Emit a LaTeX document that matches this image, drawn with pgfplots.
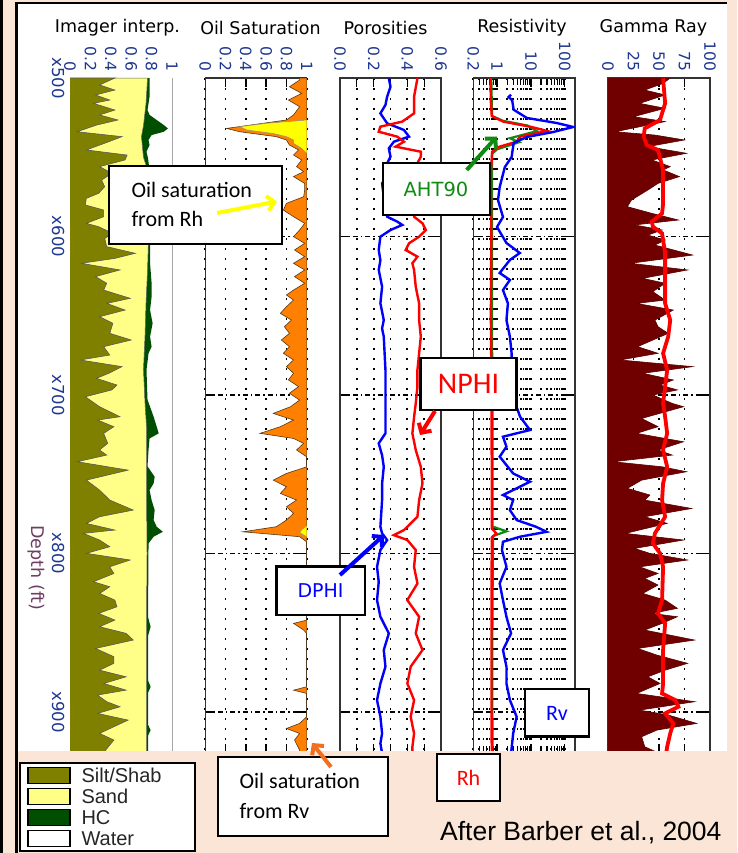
\documentclass[border=0pt]{standalone}
\usepackage{pgfplots}
\pgfplotsset{compat=1.18}
\usetikzlibrary{arrows.meta}
\usepackage{fontspec}
\setmainfont{Carlito}
\newfontfamily\dvs{DejaVu Sans}
\newfontfamily\lib{Liberation Sans}
\definecolor{peach}{HTML}{FBE5D6}
\definecolor{olivefill}{HTML}{808000}
\definecolor{sandfill}{HTML}{FFFF88}
\definecolor{hcfill}{HTML}{004F00}
\definecolor{oilorange}{HTML}{FF8000}
\definecolor{oilyellow}{HTML}{FFFF00}
\definecolor{grfill}{HTML}{700000}
\definecolor{ticknavy}{RGB}{30,55,145}
\definecolor{depthcol}{RGB}{110,60,100}
\definecolor{ahtgreen}{HTML}{108A10}
\definecolor{arroworange}{HTML}{F07020}

\pgfplotsset{
  trk/.style={
    scale only axis, anchor=north west, height=675.2pt,
    ymin=500, ymax=926, y dir=reverse,
    ytick={600,700,800,900}, yticklabels={},
    xticklabel pos=upper,
    tick align=inside, major tick length=9pt, minor tick length=7pt,
    xtick pos=both, ytick pos=both,
    axis line style={draw=black!80, line width=1.3pt},
    tick style={black, line width=1.3pt},
    xmajorgrids, ymajorgrids,
    major x grid style={black, line width=1.7pt, dash pattern=on 1.7pt off 8.3pt},
    minor x grid style={black, line width=1.7pt, dash pattern=on 1.7pt off 8.3pt},
    major y grid style={black, line width=1.2pt, dash pattern=on 5pt off 3pt on 1.5pt off 3pt},
    xticklabel style={font=\dvs\fontsize{15.5}{15.5}\selectfont, text=ticknavy, rotate=-90, anchor=east},
    xticklabel shift=3pt,
  }
}

\begin{document}
\begin{tikzpicture}[x=1pt,y=-1pt]
\useasboundingbox (0,0) rectangle (737,853);
\fill[peach] (0,0) rectangle (737,853);
\fill[white] (17,4) rectangle (727,751);

% ---------- Track titles ----------
\begin{scope}[every node/.style={font=\dvs\fontsize{17.5}{17.5}\selectfont, text=black}]
\node at (117.5,28) {Imager interp.};
\node at (260.5,28) {Oil Saturation};
\node at (385.5,28) {Porosities};
\node at (522,28) {Resistivity};
\node at (653.5,28) {Gamma Ray};
\end{scope}

% ---------- Track 1: Imager interpretation ----------
\begin{axis}[trk, at={(70pt,-78pt)}, width=102pt, xmin=0, xmax=1, clip=false,
  xtick={0,0.2,0.4,0.6,0.8,1}, xticklabels={0,0.2,0.4,0.6,0.8,1},
  axis line style={draw=none}, xmajorgrids=false, ymajorgrids=false, major tick length=0pt,
  ytick={500,600,700,800,900}, yticklabels={x500,x600,x700,x800,x900}, ytick pos=left,
  yticklabel style={font=\dvs\fontsize{16.5}{16.5}\selectfont, text=ticknavy, rotate=-90, anchor=north},
  yticklabel shift=2pt]
\addplot[fill=hcfill, draw=none] coordinates {(0,500) (0.78,500) (0.78,503.4) (0.78,511.8) (0.77,516) (0.76,520.2) (0.78,523.3) (0.85,526.5) (0.92,529.7) (0.96,531.8) (0.92,533.9) (0.80,536) (0.77,539.1) (0.78,542.3) (0.75,546.5) (0.765,550.7) (0.78,558) (0.78,600) (0.785,604.3) (0.785,616.9) (0.80,629.5) (0.80,638) (0.785,646.4) (0.81,654.8) (0.785,663.2) (0.80,669.5) (0.77,673.7) (0.75,684.2) (0.76,703) (0.82,713.7) (0.85,720) (0.87,724.2) (0.78,727.4) (0.77,734.7) (0.76,745) (0.83,751.6) (0.82,755.8) (0.78,760) (0.80,766.3) (0.83,772.6) (0.82,778.9) (0.85,783.1) (0.91,786.3) (0.82,789.4) (0.77,793.6) (0.765,840) (0.79,846.2) (0.765,852) (0.765,880) (0.79,884.1) (0.765,888) (0.765,908) (0.79,911.4) (0.765,915) (0.765,926) (0,926)};
\addplot[fill=sandfill, draw=black!60, line width=0.5pt] coordinates {(0,500) (0.76,500) (0.745,516) (0.72,530) (0.70,537) (0.72,550) (0.76,558) (0.77,579) (0.77,600) (0.76,621) (0.745,642) (0.735,663) (0.72,684) (0.735,705) (0.75,720) (0.75,760) (0.755,800) (0.75,840) (0.75,880) (0.75,926) (0,926)};
\addplot[fill=olivefill, draw=black!65, line width=0.6pt] coordinates {(0,500) (0.44,500) (0.29,504.4) (0.44,507.6) (0.25,510.7) (0.39,513.9) (0.23,516.0) (0.44,520.2) (0.29,523.3) (0.47,526.5) (0.26,529.7) (0.07,533.9) (0.51,537.0) (0.38,540.2) (0.16,545.4) (0.56,548.6) (0.54,551.7) (0.29,555.9) (0.41,560.1) (0.31,564.4) (0.34,568.6) (0.28,572.8) (0.16,575.9) (0.15,580.1) (0.33,583.3) (0.33,587.5) (0.16,591.7) (0.28,593.8) (0.42,598.0) (0.34,601.2) (0.36,606.4) (0.64,610.6) (0.44,613.8) (0.11,616.9) (0.49,621.1) (0.25,625.3) (0.36,629.5) (0.33,633.8) (0.59,639.0) (0.36,642.2) (0.54,646.4) (0.29,650.6) (0.42,654.8) (0.39,661.1) (0.60,665.3) (0.33,669.5) (0.39,674.8) (0.10,677.9) (0.51,682.1) (0.38,686.3) (0.26,689.5) (0.46,693.7) (0.41,696.8) (0.15,701.1) (0.29,707.4) (0.49,713.7) (0.27,715.8) (0.43,720.0) (0.33,724.2) (0.37,730.5) (0.29,734.7) (0.36,737.9) (0.07,742.1) (0.57,747.4) (0.16,753.7) (0.29,760.0) (0.39,766.3) (0.62,772.6) (0.29,776.8) (0.16,781.0) (0.44,785.2) (0.13,787.3) (0.29,791.5) (0.39,795.7) (0.16,799.9) (0.59,804.1) (0.39,808.4) (0.43,812.6) (0.23,817.8) (0.39,821.0) (0.29,825.2) (0.44,829.4) (0.46,833.6) (0.28,837.8) (0.44,842.0) (0.29,846.2) (0.55,850.4) (0.62,854.6) (0.25,859.9) (0.43,865.1) (0.43,869.3) (0.29,873.6) (0.55,877.8) (0.33,882.0) (0.55,886.2) (0.27,889.3) (0.36,893.5) (0.49,896.7) (0.27,900.9) (0.57,905.1) (0.43,909.3) (0.29,913.5) (0.43,917.7) (0.35,924) (0.35,926) (0,926)};
\addplot[draw=gray!70, line width=1pt] coordinates {(1,500) (1,926)};
\end{axis}

% ---------- Track 2: Oil saturation ----------
\begin{axis}[trk, at={(205.3pt,-78pt)}, width=101.4pt, xmin=0, xmax=1,
  xtick={0,0.2,0.4,0.6,0.8,1}, xticklabels={0,0.2,0.4,0.6,0.8,1}]
\addplot[fill=oilorange, draw=black!55!brown, line width=0.6pt] coordinates {(1,500) (0.93,500) (0.93,501.3) (0.83,505.5) (0.95,509.7) (0.82,513.9) (0.93,518.1) (0.87,523.3) (0.80,526.5) (0.21,531.8) (0.34,533.9) (0.70,537.0) (0.80,539.1) (0.83,542.3) (0.92,545.4) (0.87,548.6) (0.95,551.7) (0.90,555.9) (0.97,559.1) (0.87,562.2) (0.98,566.5) (0.98,570.7) (0.97,574.9) (0.80,579.1) (0.77,583.3) (0.87,587.5) (0.98,591.7) (0.93,595.9) (0.87,600.1) (0.98,604.3) (0.88,608.5) (0.98,612.7) (0.87,616.9) (0.98,621.1) (0.88,625.3) (0.98,629.5) (0.87,633.8) (0.80,636.9) (0.87,640.1) (0.80,644.3) (0.74,648.5) (0.85,652.7) (0.78,656.9) (0.83,661.1) (0.75,665.3) (0.83,669.5) (0.77,673.7) (0.87,677.9) (0.80,682.1) (0.87,686.3) (0.82,690.5) (0.92,694.7) (0.83,698.9) (0.93,703.2) (0.84,707.4) (0.67,711.6) (0.87,715.8) (0.74,720.0) (0.54,724.2) (0.87,727.4) (0.97,730.5) (0.90,734.7) (1,739.0) (1,745.3) (0.80,749.5) (0.67,753.7) (0.80,757.9) (0.74,762.1) (0.90,766.3) (0.80,770.5) (0.87,774.7) (0.80,778.9) (0.70,783.1) (0.37,786.3) (0.93,789.4) (1,792.6) (1,842.0) (0.87,844.1) (0.97,848.3) (1,850.4) (1,884.1) (0.87,886.2) (1,888.3) (1,903.0) (0.93,907.2) (0.80,910.4) (0.93,913.5) (0.88,917.7) (0.93,924) (0.93,926) (1,926)};
\addplot[fill=oilyellow, draw=black!45, line width=0.5pt] coordinates {(1,526.5) (0.60,528.6) (0.34,530.7) (0.41,532.8) (0.67,535.0) (0.80,537.0) (0.87,539.1) (0.87,541.2) (0.95,544.4) (1,547.5)};
\addplot[fill=oilyellow, draw=black!45, line width=0.5pt] coordinates {(1,782.5) (0.95,785.0) (0.93,786.8) (1,789.5)};
\end{axis}

% ---------- Track 3: Porosities ----------
\begin{axis}[trk, at={(340pt,-78pt)}, width=101pt, xmin=0, xmax=0.6,
  xtick={0,0.2,0.4,0.6}, xticklabels={0.0,0.2,0.4,0.6},
  minor xtick={0.1,0.3,0.5}, xminorgrids, minor tick length=9pt]
\addplot[blue, line width=2.4pt] coordinates {(0.29,500.2) (0.30,505.5) (0.28,511.8) (0.27,517) (0.24,522.3) (0.28,528.6) (0.38,532.8) (0.41,537.0) (0.32,540.2) (0.29,544.4) (0.30,549.6) (0.27,555.9) (0.29,560.1) (0.25,566.5) (0.26,574.9) (0.27,581.2) (0.28,587.5) (0.34,590.6) (0.37,592.7) (0.30,595.9) (0.24,600.1) (0.23,608.5) (0.24,615) (0.23,621.1) (0.25,631.7) (0.24,642.2) (0.26,652.7) (0.25,658) (0.26,663.2) (0.27,684.2) (0.27,705.3) (0.27,713.7) (0.27,724.2) (0.23,730.5) (0.25,738) (0.26,745.3) (0.25,756) (0.25,766.3) (0.24,783.1) (0.25,787.3) (0.28,791.5) (0.24,797.8) (0.22,808.4) (0.23,818) (0.22,829.4) (0.24,839.9) (0.29,850.4) (0.26,860.9) (0.27,871.4) (0.24,882.0) (0.22,892.5) (0.24,903.0) (0.25,913.5) (0.24,919.8) (0.25,926)};
\addplot[red, line width=2.4pt] coordinates {(0.46,500.2) (0.45,506) (0.44,511.8) (0.44,522.3) (0.37,527.5) (0.24,530.7) (0.23,533.9) (0.34,537.0) (0.38,540.2) (0.33,543.3) (0.48,546.5) (0.48,549.6) (0.45,555.9) (0.44,568.6) (0.44,579.1) (0.44,587.5) (0.49,591.7) (0.51,595.9) (0.47,600.1) (0.41,604.3) (0.39,608.5) (0.46,612.7) (0.43,616.9) (0.44,621.1) (0.45,631.7) (0.47,642.2) (0.47,652.7) (0.48,663.2) (0.47,673.7) (0.46,684.2) (0.46,694.7) (0.45,705.3) (0.44,714) (0.43,724.2) (0.45,734.7) (0.48,745.3) (0.49,755.8) (0.47,766.3) (0.46,776.8) (0.38,785.2) (0.32,788.4) (0.40,791.5) (0.45,797.8) (0.44,808.4) (0.46,818.9) (0.40,829.4) (0.47,839.9) (0.45,850.4) (0.49,860.9) (0.42,871.4) (0.40,882.0) (0.44,892.5) (0.42,903.0) (0.44,913.5) (0.43,922) (0.43,926)};
\end{axis}

% ---------- Track 4: Resistivity ----------
\begin{axis}[trk, at={(473.3pt,-78pt)}, width=101.7pt, xmode=log, xmin=0.2, xmax=200,
  xtick={0.2,1,10,100}, xticklabels={0.2,1,10,100},
  minor xtick={0.3,0.4,0.5,0.6,0.7,0.8,0.9,2,3,4,5,6,7,8,9,20,30,40,50,60,70,80,90},
  xminorgrids]
\addplot[ahtgreen, line width=2.2pt] coordinates {(0.68,500) (0.70,515) (0.72,524) (1.5,527) (8,530) (15,533.5) (2.4,538) (4.5,540.5) (1.0,545) (0.71,548) (0.71,600) (0.71,650) (0.73,700) (0.74,750) (0.74,783) (1.9,786) (0.76,789) (0.73,850) (0.73,900) (0.74,926)};
\addplot[red, line width=2.4pt] coordinates {(0.64,500) (0.66,515) (0.70,524) (1.53,527.5) (9.4,530.7) (30,533.4) (4.8,537) (3.8,540.2) (1.2,543.3) (0.72,546.5) (0.66,560) (0.68,600) (0.66,650) (0.69,700) (0.70,750) (0.70,784) (0.95,787.3) (0.70,790) (0.69,850) (0.69,900) (0.70,926)};
\addplot[blue, line width=2.4pt] coordinates {(2.6,510.5) (2.2,512) (2.8,514) (3.1,520) (7.6,525.2) (58,528.4) (177,530.9) (45,534.1) (7.6,537.2) (3.1,541) (2.7,549.8) (1.7,556.2) (1.2,568.8) (1.07,577) (1.5,587.7) (1.0,594) (1.9,604.1) (4.7,610.4) (2.4,614.8) (1.2,623) (2.4,627.4) (1.5,633.8) (2.1,642.2) (1.9,652.7) (2.4,663.2) (2.7,673.7) (2.7,684.2) (3.0,695) (3.2,703.2) (4.8,713.7) (9.4,722.1) (1.5,726.3) (1.9,732.6) (1.2,738.9) (3.0,749.5) (9.4,754.7) (3.8,758.9) (1.5,763.1) (3.0,766.3) (2.4,772.6) (3.8,778.9) (14,783.1) (29,786.3) (4.8,789.4) (1.5,792.6) (1.4,797.8) (1.9,808.4) (1.2,818.9) (1.5,829.4) (1.9,839.9) (2.6,850.4) (1.5,860.9) (1.9,871.4) (1.9,882.0) (2.4,892.5) (3.8,903.0) (3.0,913.5) (2.6,926)};
\end{axis}

% ---------- Track 5: Gamma ray ----------
\begin{axis}[trk, at={(608pt,-78pt)}, width=102pt, xmin=0, xmax=100,
  xtick={0,25,50,75,100}, xticklabels={0,25,50,75,100}]
\addplot[fill=grfill, draw=grfill!80!black, line width=0.6pt] coordinates {(0,500) (61,500) (54,503.4) (36,507.6) (56,510.7) (31,516.0) (56,519.1) (25,524.4) (56,527.5) (7,533.9) (46,536.0) (75,539.1) (39,543.3) (77,547.5) (43,551.7) (61,555.9) (54,558.0) (70,562.2) (49,566.5) (39,570.7) (23,577.0) (19,581.2) (43,585.4) (69,589.6) (26,592.7) (53,595.9) (39,599.1) (56,602.2) (46,605.4) (83,611.7) (22,616.9) (78,621.1) (34,626.4) (56,629.5) (44,634.8) (56,640.1) (28,642.2) (64,646.4) (46,652.7) (49,656.9) (59,661.1) (29,669.5) (49,673.7) (12,677.9) (83,682.1) (34,686.3) (64,690.5) (51,693.7) (68,696.8) (44,700.0) (63,705.3) (74,707.4) (33,714.8) (49,720.0) (28,724.2) (74,729.5) (49,734.7) (63,737.9) (5,742.1) (53,745.3) (77,748.4) (33,753.7) (19,758.9) (41,763.1) (36,766.3) (82,771.6) (36,776.8) (58,781.0) (17,787.3) (74,791.5) (26,796.8) (41,799.9) (78,804.1) (31,808.4) (49,812.6) (36,815.7) (49,819.9) (34,825.2) (56,829.4) (68,834.6) (43,837.8) (68,839.9) (53,844.1) (36,848.3) (85,854.6) (29,859.9) (48,864.1) (78,869.3) (56,873.6) (39,877.8) (51,882.0) (28,888.3) (85,893.5) (31,898.8) (59,901.9) (87,907.2) (48,911.4) (33,915.6) (36,921.9) (50,926) (0,926)};
\addplot[red, line width=3.8pt] coordinates {(54,500.2) (56,516) (51,526.5) (36,531.8) (35,537) (38,542.3) (49,545.4) (54,558) (54,579.1) (53,585.4) (43,590.6) (44,593.8) (53,598) (56,610.6) (56,642.2) (61,652.7) (59,663.2) (54,673.7) (58,684.2) (54,705.3) (56,713.7) (58,724.2) (54,734.7) (58,745.3) (54,755.8) (53,766.3) (56,776.8) (46,787.3) (44,793.6) (51,799.9) (54,808.4) (53,829.4) (49,837.8) (56,844.1) (54,860.9) (54,882) (53,888.3) (66,892.5) (69,896.7) (56,900.9) (64,907.2) (61,913.5) (58,921.9) (57,926)};
\end{axis}

% ---------- bottom band, frame ----------
\fill[peach] (17,751) rectangle (737,853);
\draw[black, line width=3pt] (1.5,0) -- (1.5,853);
\draw[black, line width=2.5pt] (16.5,2) -- (16.5,853);
\draw[black, line width=2.5pt] (15.5,3.2) -- (727,3.2);

% depth label
\node[rotate=-90, font=\dvs\fontsize{17.5}{17.5}\selectfont, text=depthcol] at (36.5,568) {Depth (ft)};

% ---------- legend ----------
\draw[black, line width=1.5pt, fill=white] (20,763) rectangle (195,851);
\begin{scope}[every node/.style={anchor=west, font=\lib\fontsize{20}{20}\selectfont, text=black!85}]
\draw[black, line width=1.2pt, fill=olivefill] (28,767.5) rectangle (70,783.5); \node at (78,775.5) {Silt/Shab};
\draw[black, line width=1.2pt, fill=sandfill] (28,788.5) rectangle (70,804.5); \node at (78,796.5) {Sand};
\draw[black, line width=1.2pt, fill=hcfill] (28,809.5) rectangle (70,825.5); \node at (78,817.5) {HC};
\draw[black, line width=1.2pt, fill=white] (28,830.5) rectangle (70,846.5); \node at (78,838.5) {Water};
\end{scope}

% ---------- annotation boxes ----------
\begin{scope}[line width=2.5pt]
\draw[fill=white] (109,166) rectangle (282,244);
\draw[fill=white] (383,163) rectangle (490,215);
\draw[fill=white] (420.5,358) rectangle (516.5,410);
\draw[fill=white] (276.5,566.5) rectangle (365,615);
\draw[fill=white] (525,689) rectangle (589,736.5);
\draw[fill=white] (437,754) rectangle (500,801);
\draw[fill=white] (218,757) rectangle (388,836);
\end{scope}
\node[anchor=base west, font=\fontsize{22}{22}\selectfont] at (128,197) {Oil saturation};
\node[anchor=base west, font=\fontsize{22}{22}\selectfont] at (128,226) {from Rh};
\node[font=\dvs\fontsize{19.5}{19.5}\selectfont, text=ahtgreen] at (436,189) {AHT90};
\node[font=\fontsize{30}{30}\selectfont, text=red] at (468.5,384) {NPHI};
\node[font=\dvs\fontsize{19}{19}\selectfont, text=blue] at (320.5,591) {DPHI};
\node[font=\fontsize{22}{22}\selectfont, text=blue] at (557,713) {Rv};
\node[font=\fontsize{22}{22}\selectfont, text=red] at (468.5,777.5) {Rh};
\node[anchor=base west, font=\fontsize{22}{22}\selectfont] at (236,788) {Oil saturation};
\node[anchor=base west, font=\fontsize{22}{22}\selectfont] at (236,818) {from Rv};
\node[anchor=base east, font=\lib\fontsize{26.5}{26.5}\selectfont] at (725,840) {After Barber et al., 2004};

% ---------- arrows ----------
\begin{scope}[line width=4pt, -{Straight Barb[length=7pt,width=15pt]}]
\draw[oilyellow] (217,213) -- (277,201.5);
\draw[ahtgreen] (466.7,170) -- (497,136.5);
\draw[red] (435,411) -- (420,435);
\draw[blue] (340,575) -- (384,535);
\draw[arroworange] (331,767) -- (312,743);
\end{scope}
\end{tikzpicture}
\end{document}
